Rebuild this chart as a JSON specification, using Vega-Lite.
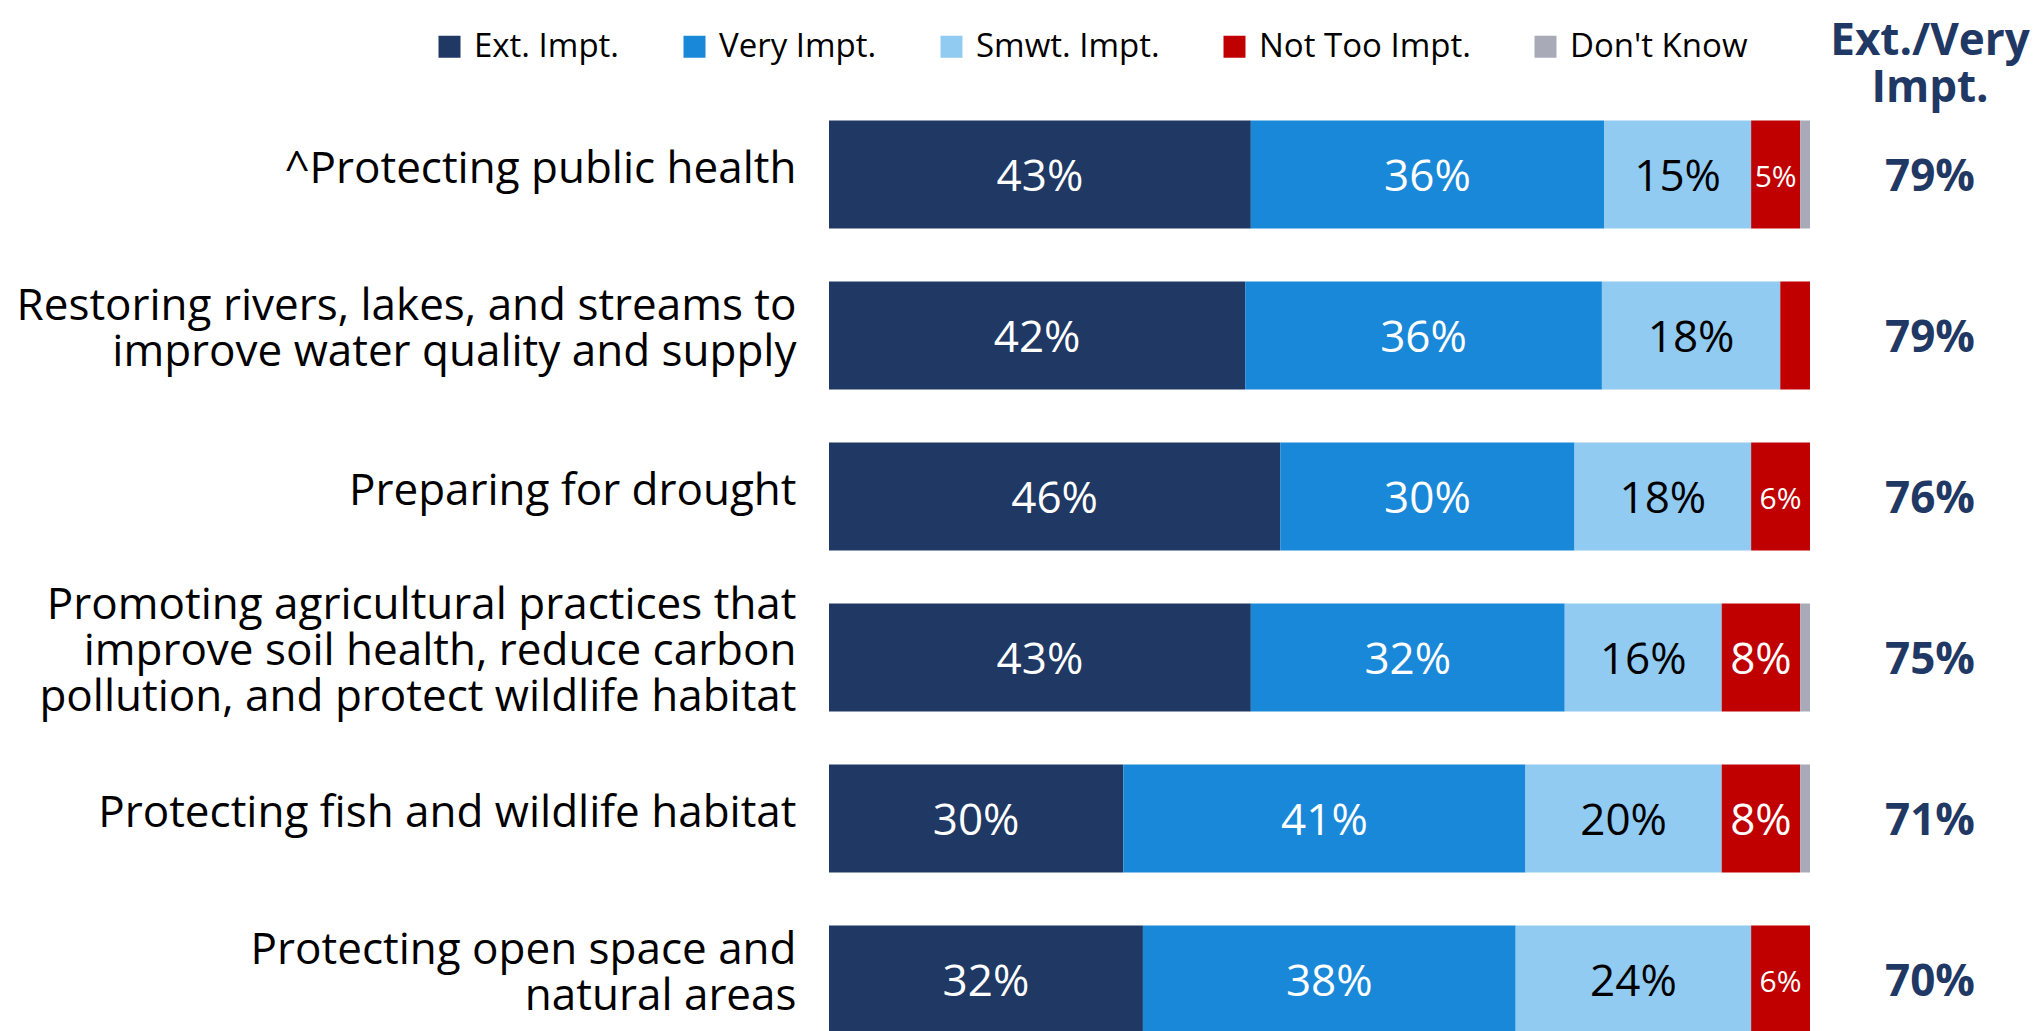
{
  "$schema": "https://vega.github.io/schema/vega-lite/v6.json",
  "background": "white",
  "padding": {"left": 16, "top": 20, "right": 0, "bottom": 0},
  "config": {"view": {"stroke": null}, "font": "Open Sans"},
  "datasets": {
    "segments": [
      {"item": "^Protecting public health", "response": "Ext. Impt.", "rank": 1, "value": 0.43},
      {"item": "^Protecting public health", "response": "Very Impt.", "rank": 2, "value": 0.36},
      {"item": "^Protecting public health", "response": "Smwt. Impt.", "rank": 3, "value": 0.15},
      {"item": "^Protecting public health", "response": "Not Too Impt.", "rank": 4, "value": 0.05},
      {"item": "^Protecting public health", "response": "Don't Know", "rank": 5, "value": 0.01},
      {"item": "Restoring rivers, lakes, and streams to\nimprove water quality and supply", "response": "Ext. Impt.", "rank": 1, "value": 0.42},
      {"item": "Restoring rivers, lakes, and streams to\nimprove water quality and supply", "response": "Very Impt.", "rank": 2, "value": 0.36},
      {"item": "Restoring rivers, lakes, and streams to\nimprove water quality and supply", "response": "Smwt. Impt.", "rank": 3, "value": 0.18},
      {"item": "Restoring rivers, lakes, and streams to\nimprove water quality and supply", "response": "Not Too Impt.", "rank": 4, "value": 0.03},
      {"item": "Preparing for drought", "response": "Ext. Impt.", "rank": 1, "value": 0.46},
      {"item": "Preparing for drought", "response": "Very Impt.", "rank": 2, "value": 0.30},
      {"item": "Preparing for drought", "response": "Smwt. Impt.", "rank": 3, "value": 0.18},
      {"item": "Preparing for drought", "response": "Not Too Impt.", "rank": 4, "value": 0.06},
      {"item": "Promoting agricultural practices that\nimprove soil health, reduce carbon\npollution, and protect wildlife habitat", "response": "Ext. Impt.", "rank": 1, "value": 0.43},
      {"item": "Promoting agricultural practices that\nimprove soil health, reduce carbon\npollution, and protect wildlife habitat", "response": "Very Impt.", "rank": 2, "value": 0.32},
      {"item": "Promoting agricultural practices that\nimprove soil health, reduce carbon\npollution, and protect wildlife habitat", "response": "Smwt. Impt.", "rank": 3, "value": 0.16},
      {"item": "Promoting agricultural practices that\nimprove soil health, reduce carbon\npollution, and protect wildlife habitat", "response": "Not Too Impt.", "rank": 4, "value": 0.08},
      {"item": "Promoting agricultural practices that\nimprove soil health, reduce carbon\npollution, and protect wildlife habitat", "response": "Don't Know", "rank": 5, "value": 0.01},
      {"item": "Protecting fish and wildlife habitat", "response": "Ext. Impt.", "rank": 1, "value": 0.30},
      {"item": "Protecting fish and wildlife habitat", "response": "Very Impt.", "rank": 2, "value": 0.41},
      {"item": "Protecting fish and wildlife habitat", "response": "Smwt. Impt.", "rank": 3, "value": 0.20},
      {"item": "Protecting fish and wildlife habitat", "response": "Not Too Impt.", "rank": 4, "value": 0.08},
      {"item": "Protecting fish and wildlife habitat", "response": "Don't Know", "rank": 5, "value": 0.01},
      {"item": "Protecting open space and\nnatural areas", "response": "Ext. Impt.", "rank": 1, "value": 0.32},
      {"item": "Protecting open space and\nnatural areas", "response": "Very Impt.", "rank": 2, "value": 0.38},
      {"item": "Protecting open space and\nnatural areas", "response": "Smwt. Impt.", "rank": 3, "value": 0.24},
      {"item": "Protecting open space and\nnatural areas", "response": "Not Too Impt.", "rank": 4, "value": 0.06}
    ],
    "totals": [
      {"item": "^Protecting public health", "total": 0.79},
      {"item": "Restoring rivers, lakes, and streams to\nimprove water quality and supply", "total": 0.79},
      {"item": "Preparing for drought", "total": 0.76},
      {"item": "Promoting agricultural practices that\nimprove soil health, reduce carbon\npollution, and protect wildlife habitat", "total": 0.75},
      {"item": "Protecting fish and wildlife habitat", "total": 0.71},
      {"item": "Protecting open space and\nnatural areas", "total": 0.70}
    ]
  },
  "spacing": 20,
  "hconcat": [
    {
      "width": 981,
      "height": 966,
      "data": {"name": "segments"},
      "encoding": {
        "y": {
          "field": "item",
          "type": "nominal",
          "sort": null,
          "scale": {"paddingInner": 0.33, "paddingOuter": 0.165},
          "axis": {
            "title": null,
            "domain": false,
            "ticks": false,
            "labelPadding": 33,
            "labelLimit": 0,
            "labelFont": "Open Sans",
            "labelFontSize": 44,
            "labelColor": "#000000",
            "labelLineHeight": 46,
            "labelOffset": {
              "condition": [
                {"test": "length(split(datum.value, '\\n')) === 3", "value": -52},
                {"test": "length(split(datum.value, '\\n')) === 2", "value": -29}
              ],
              "value": -5
            },
            "labelExpr": "split(datum.label, '\\n')"
          }
        }
      },
      "layer": [
        {
          "mark": {"type": "bar"},
          "encoding": {
            "x": {"field": "value", "type": "quantitative", "stack": "normalize", "axis": null},
            "order": {"field": "rank", "type": "quantitative"},
            "color": {
              "field": "response",
              "type": "nominal",
              "sort": ["Ext. Impt.", "Very Impt.", "Smwt. Impt.", "Not Too Impt.", "Don't Know"],
              "scale": {
                "domain": ["Ext. Impt.", "Very Impt.", "Smwt. Impt.", "Not Too Impt.", "Don't Know"],
                "range": ["#1F3864", "#1A88D8", "#92CBF2", "#C00000", "#A9AAB8"]
              },
              "legend": {
                "title": null,
                "orient": "none",
                "direction": "horizontal",
                "legendX": -396,
                "legendY": -64,
                "symbolType": "square",
                "symbolSize": 484,
                "symbolStrokeWidth": 0,
                "labelFont": "Open Sans",
                "labelFontSize": 33,
                "labelColor": "#000000",
                "labelOffset": 8,
                "columnPadding": 58,
                "labelLimit": 0
              }
            }
          }
        },
        {
          "mark": {"type": "text", "font": "Open Sans", "baseline": "middle", "align": "center", "dy": 3},
          "encoding": {
            "x": {"field": "value", "type": "quantitative", "stack": "normalize", "bandPosition": 0.5},
            "order": {"field": "rank", "type": "quantitative"},
            "detail": {"field": "response"},
            "text": {
              "condition": {"test": "datum.value < 0.05 || datum.rank === 5", "value": ""},
              "field": "value",
              "type": "quantitative",
              "format": ".0%"
            },
            "color": {"condition": {"test": "datum.response === 'Smwt. Impt.'", "value": "#000000"}, "value": "#FFFFFF"},
            "size": {"condition": {"test": "datum.value < 0.07", "value": 30}, "value": 44}
          }
        }
      ]
    },
    {
      "width": 200,
      "height": 966,
      "data": {"name": "totals"},
      "title": {
        "text": ["Ext./Very", "Impt."],
        "font": "Open Sans",
        "fontSize": 44,
        "fontWeight": "bold",
        "color": "#1F3864",
        "anchor": "middle",
        "lineHeight": 47,
        "offset": -17
      },
      "mark": {"type": "text", "font": "Open Sans", "fontWeight": "bold", "fontSize": 44, "color": "#1F3864", "baseline": "middle", "align": "center", "dy": 3},
      "encoding": {
        "y": {"field": "item", "type": "nominal", "sort": null, "scale": {"paddingInner": 0.33, "paddingOuter": 0.165}, "axis": null},
        "text": {"field": "total", "type": "quantitative", "format": ".0%"}
      }
    }
  ]
}
